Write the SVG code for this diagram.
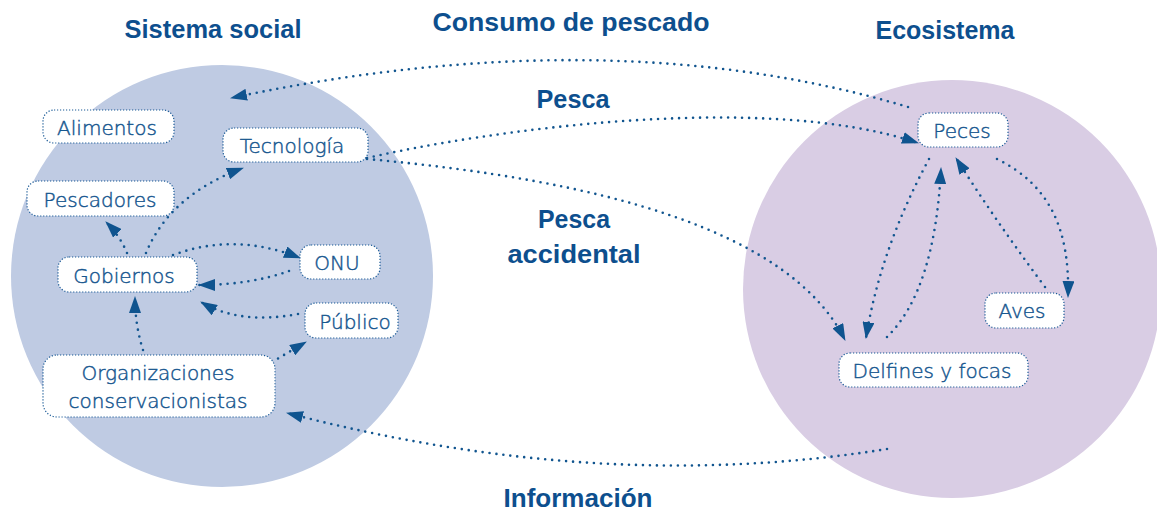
<svg xmlns="http://www.w3.org/2000/svg" width="1157" height="512" viewBox="0 0 1157 512">
<style>
.title{font-family:"Liberation Sans",Arial,sans-serif;font-weight:bold;font-size:25px;fill:#0d4f8e;text-anchor:middle}
.box{fill:#ffffff;stroke:#1a5a96;stroke-width:1.2;stroke-dasharray:1.2 1.8}
.lbl{font-family:"DejaVu Sans",sans-serif;font-weight:300;font-size:20px;fill:#17578f;stroke:#17578f;stroke-width:0.45;text-anchor:middle}
.con{fill:none;stroke:#11558f;stroke-width:2.6;stroke-dasharray:0 7;stroke-linecap:round;marker-end:url(#ah)}
</style>
<defs>
<marker id="ah" markerUnits="userSpaceOnUse" markerWidth="17" markerHeight="12" refX="16" refY="6" orient="auto" viewBox="0 0 17 12">
<path d="M0,0 L17,6 L0,12 z" fill="#0f548f"/>
</marker>
</defs>
<rect width="1157" height="512" fill="#ffffff"/>
<circle cx="222" cy="276" r="211" fill="#bfcbe3"/>
<circle cx="952" cy="289" r="209" fill="#d9cde4"/>

<g id="titles">
<text class="title" x="213" y="38" textLength="177" lengthAdjust="spacingAndGlyphs">Sistema social</text>
<text class="title" x="571" y="31" textLength="277" lengthAdjust="spacingAndGlyphs">Consumo de pescado</text>
<text class="title" x="945" y="39" textLength="139" lengthAdjust="spacingAndGlyphs">Ecosistema</text>
<text class="title" x="573" y="108" textLength="73" lengthAdjust="spacingAndGlyphs">Pesca</text>
<text class="title" x="574" y="228" textLength="72" lengthAdjust="spacingAndGlyphs">Pesca</text>
<text class="title" x="574" y="263" textLength="133" lengthAdjust="spacingAndGlyphs">accidental</text>
<text class="title" x="578" y="507" textLength="149" lengthAdjust="spacingAndGlyphs">Información</text>
</g>

<g id="connectors">
<path class="con" d="M 908 107 Q 610 18 231 98"/>
<path class="con" d="M 367 158 C 480 132 760 90 918 143"/>
<path class="con" d="M 367 159 C 600 180 790 230 845 340"/>
<path class="con" d="M 929 159 Q 880 250 866 338"/>
<path class="con" d="M 887 337 Q 935 290 941 168"/>
<path class="con" d="M 1045 287 Q 995 220 956 158"/>
<path class="con" d="M 997 159 C 1050 185 1070 230 1068 297"/>
<path class="con" d="M 887 449 Q 600 495 287 413"/>
<path class="con" d="M 127 253 Q 120 236 106 222"/>
<path class="con" d="M 146 253 Q 170 195 243 168"/>
<path class="con" d="M 173 255 Q 235 232 300 258"/>
<path class="con" d="M 289 271 Q 250 285 199 285"/>
<path class="con" d="M 298 314 Q 240 325 201 302"/>
<path class="con" d="M 143 350 Q 135 325 135 297"/>
<path class="con" d="M 272 362 L 306 342"/>
</g>

<g id="alimentos"><rect class="box" x="43" y="110" width="131" height="33" rx="11"/><text class="lbl" x="107" y="135">Alimentos</text></g>
<g id="tecnologia"><rect class="box" x="223" y="128" width="145" height="34" rx="11"/><text class="lbl" x="292" y="153">Tecnología</text></g>
<g id="pescadores"><rect class="box" x="27" y="181" width="147" height="35" rx="11"/><text class="lbl" x="100" y="207">Pescadores</text></g>
<g id="gobiernos"><rect class="box" x="58" y="257" width="139" height="35" rx="11"/><text class="lbl" x="124" y="283">Gobiernos</text></g>
<g id="onu"><rect class="box" x="300" y="245" width="80" height="34" rx="11"/><text class="lbl" x="337" y="270">ONU</text></g>
<g id="publico"><rect class="box" x="305" y="303" width="93" height="35" rx="11"/><text class="lbl" x="355" y="329">Público</text></g>
<g id="organizaciones"><rect class="box" x="43" y="355" width="232" height="62" rx="14"/><text class="lbl" x="158" y="380">Organizaciones</text><text class="lbl" x="158" y="408">conservacionistas</text></g>
<g id="peces"><rect class="box" x="918" y="113" width="90" height="34" rx="11"/><text class="lbl" x="962" y="138">Peces</text></g>
<g id="aves"><rect class="box" x="985" y="293" width="79" height="35" rx="11"/><text class="lbl" x="1022" y="318">Aves</text></g>
<g id="delfines"><rect class="box" x="839" y="353" width="189" height="34" rx="11"/><text class="lbl" x="932" y="378">Delfines y focas</text></g>
</svg>
